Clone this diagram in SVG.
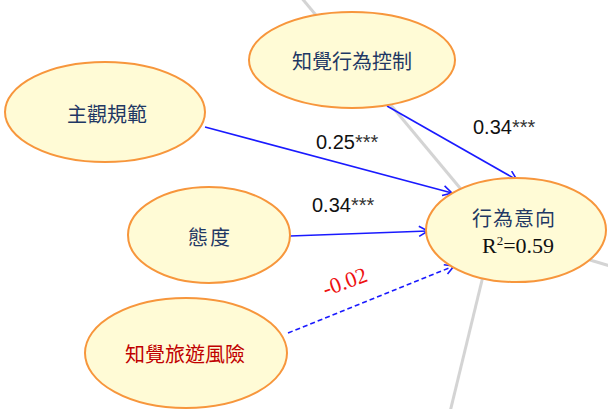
<svg xmlns="http://www.w3.org/2000/svg" width="608" height="409" viewBox="0 0 608 409">
<defs>
<style>
.node ellipse{fill:#fffbd6;stroke:#f7963c;stroke-width:2}
.cjk{font-family:"Noto Sans CJK TC","Noto Sans CJK SC",sans-serif;font-size:20px;text-anchor:middle;fill:#1f3864}
.red{fill:#c00000}
.conn{stroke:#1a1aff;stroke-width:1.6;fill:none}
.dash{stroke-dasharray:5,3}
.coef{font-family:"Liberation Sans",Arial,sans-serif;font-size:20px;fill:#111}
.star{font-size:20px;fill:#333}
.bg{stroke:#d4d4d4;stroke-width:3;fill:none}
</style>
<marker id="arr" markerWidth="12" markerHeight="12" refX="10" refY="6" orient="auto" markerUnits="userSpaceOnUse">
<path d="M1,1 L10,6 L1,11" fill="none" stroke="#1a1aff" stroke-width="1.6"/>
</marker>
</defs>
<rect width="608" height="409" fill="#fff"/>
<g id="background">
<line class="bg" x1="300" y1="-4" x2="470" y2="200"/>
<line class="bg" x1="484" y1="272" x2="450" y2="412"/>
<line class="bg" x1="590" y1="260" x2="610" y2="266"/>
</g>
<g id="connectors">
<line class="conn" x1="387" y1="106" x2="517" y2="180" marker-end="url(#arr)"/>
<line class="conn" x1="205" y1="127" x2="452" y2="193" marker-end="url(#arr)"/>
<line class="conn" x1="290" y1="236" x2="428" y2="231" marker-end="url(#arr)"/>
<line class="conn dash" x1="288" y1="333" x2="454" y2="266" marker-end="url(#arr)"/>
</g>
<g id="labels">
<text class="coef" x="316" y="149">0.25<tspan class="star">***</tspan></text>
<text class="coef" x="312" y="212">0.34<tspan class="star">***</tspan></text>
<text class="coef" x="473" y="134">0.34<tspan class="star">***</tspan></text>
<text x="345" y="289" transform="rotate(-20 345 282)" font-family="'Liberation Serif','Times New Roman',serif" font-size="22" fill="#ee1111" text-anchor="middle">-0.02</text>
</g>
<g id="n-pbc" class="node">
<ellipse cx="352" cy="60" rx="103" ry="48"/>
<text class="cjk" x="352" y="69">知覺行為控制</text>
</g>
<g id="n-sn" class="node">
<ellipse cx="105" cy="112" rx="100" ry="50"/>
<text class="cjk" x="107" y="122">主觀規範</text>
</g>
<g id="n-att" class="node">
<ellipse cx="209" cy="235" rx="81" ry="48"/>
<text class="cjk" x="210" y="245" letter-spacing="2">態度</text>
</g>
<g id="n-risk" class="node">
<ellipse cx="186" cy="353" rx="101" ry="55"/>
<text class="cjk red" x="185" y="362">知覺旅遊風險</text>
</g>
<g id="n-bi" class="node">
<ellipse cx="516" cy="230" rx="90" ry="52"/>
<text class="cjk" x="514" y="226" letter-spacing="1">行為意向</text>
<text x="518" y="253" font-family="'Liberation Serif','Times New Roman',serif" font-size="22" fill="#111" text-anchor="middle">R<tspan font-size="13" dy="-8">2</tspan><tspan dy="8">=0.59</tspan></text>
</g>
</svg>
